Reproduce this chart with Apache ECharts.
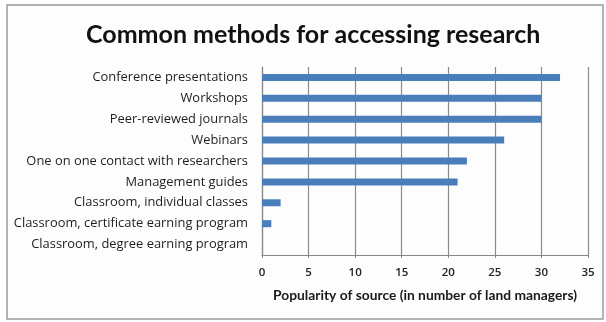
<!DOCTYPE html>
<html>
<head>
<meta charset="utf-8">
<style>
  html, body { margin: 0; padding: 0; background: #ffffff; }
  #chart { width: 606px; height: 322px; }
</style>
<script src="https://cdn.jsdelivr.net/npm/echarts@6/dist/echarts.min.js"></script>
</head>
<body>
<div id="chart"></div>
<script>
// Access methods, listed top to bottom
const categories = [
  'Conference presentations',
  'Workshops',
  'Peer-reviewed journals',
  'Webinars',
  'One on one contact with researchers',
  'Management guides',
  'Classroom, individual classes',
  'Classroom, certificate earning program',
  'Classroom, degree earning program'
];
// Number of land managers naming each source
const managers = [32, 30, 30, 26, 22, 21, 2, 1, 0];
const xTicks = [0, 5, 10, 15, 20, 25, 30, 35];

const chart = echarts.init(document.getElementById('chart'), null, { renderer: 'canvas' });
const headFont = 'Lato, "Open Sans", sans-serif';
const bodyFont = '"Open Sans", Lato, sans-serif';

chart.setOption({
  animation: false,
  backgroundColor: '#ffffff',
  graphic: [{
    type: 'rect',
    shape: { x: 7, y: 5, width: 596, height: 314 },
    style: { fill: '#fdfdfd', stroke: '#9a9a9a', lineWidth: 1.5 },
    z: -10
  }],
  title: {
    text: 'Common methods for accessing research',
    left: 81,
    top: 17,
    textStyle: { fontFamily: headFont, fontWeight: 'bold', fontSize: 25, color: '#111' }
  },
  grid: { left: 262, right: 18, top: 67, bottom: 67, containLabel: false },
  xAxis: {
    type: 'value',
    min: 0, max: 35, interval: 5,
    name: 'Popularity of source (in number of land managers)',
    nameLocation: 'middle',
    nameGap: 34,
    nameTextStyle: { fontFamily: headFont, fontWeight: 'bold', fontSize: 13.8, color: '#1a1a1a' },
    axisLine: { show: true, lineStyle: { color: '#888', width: 1.2 } },
    axisTick: { show: true, length: 3, lineStyle: { color: '#888' } },
    axisLabel: {
      fontFamily: bodyFont, fontWeight: 600, fontSize: 11.5, color: '#222', margin: 12,
      formatter: v => xTicks.includes(v) ? String(v) : ''
    },
    splitLine: { show: true, lineStyle: { color: '#8a8a8a', width: 1.2 } }
  },
  yAxis: {
    type: 'category',
    inverse: true,
    data: categories,
    axisLine: { show: true, lineStyle: { color: '#888', width: 1.2 } },
    axisTick: { show: false },
    axisLabel: { fontFamily: bodyFont, fontSize: 12.9, color: '#1e1e1e', margin: 14 }
  },
  series: [{
    type: 'bar',
    data: managers,
    barWidth: 7,
    itemStyle: { color: '#4a7ebb' }
  }]
});
</script>
</body>
</html>
